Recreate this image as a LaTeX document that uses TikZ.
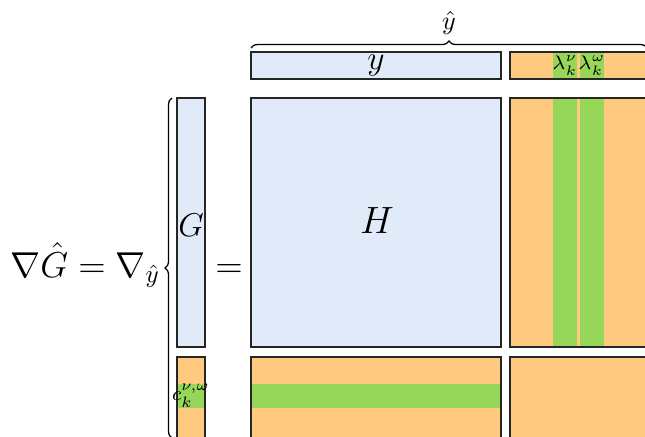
\RequirePackage{fix-cm}
\documentclass[tikz,border=0pt]{standalone}
\usepackage{amsmath, amssymb}
\usepackage{tikz}
\usetikzlibrary{decorations.pathreplacing}
\usepackage{xcolor}
\definecolor{blockblue}{RGB}{224,234,248}
\definecolor{blockorange}{RGB}{255,202,128}
\definecolor{blockgreen}{RGB}{150,214,88}
\tikzset{
  edge/.style={draw=black!85,line width=0.6pt},
  curly/.style={decorate,decoration={brace,amplitude=2.8pt},line width=0.5pt},
  eqfont/.style={font=\fontsize{14.4}{17}\selectfont,inner sep=0pt},
  blockfont/.style={font=\fontsize{13.4}{16}\selectfont,inner sep=0pt},
  tagfont/.style={font=\fontsize{7.8}{9}\selectfont,inner sep=0pt},
}

\begin{document}
\begin{tikzpicture}[x=0.4pt,y=0.4pt]
  \useasboundingbox (0,0) rectangle (645,436);
  \clip (0,0) rectangle (645,436);
  % fills
  \fill[blockblue] (251,357) rectangle (501,384);
  \fill[blockorange] (510,357) rectangle (760,384);
  \fill[blockblue] (251,89) rectangle (501,338);
  \fill[blockorange] (510,89) rectangle (760,338);
  \fill[blockorange] (251,-170) rectangle (501,79);
  \fill[blockorange] (510,-170) rectangle (760,79);
  \fill[blockblue] (177,89) rectangle (205,338);
  \fill[blockorange] (177,-170) rectangle (205,79);
  % green strips
  \fill[blockgreen] (553,357) rectangle (577,384);
  \fill[blockgreen] (580,357) rectangle (604,384);
  \fill[blockgreen] (553,89) rectangle (577,338);
  \fill[blockgreen] (580,89) rectangle (604,338);
  \fill[blockgreen] (251,28) rectangle (501,52);
  \fill[blockgreen] (177,28) rectangle (205,52);
  % borders
  \draw[edge] (251,357) rectangle (501,384);
  \draw[edge] (510,357) rectangle (760,384);
  \draw[edge] (251,89) rectangle (501,338);
  \draw[edge] (510,89) rectangle (760,338);
  \draw[edge] (251,-170) rectangle (501,79);
  \draw[edge] (510,-170) rectangle (760,79);
  \draw[edge] (177,89) rectangle (205,338);
  \draw[edge] (177,-170) rectangle (205,79);
  % braces
  \draw[curly] (251,388) -- (647,388);
  \draw[curly] (172,-2) -- (172,338);
  % labels
  \node[eqfont,anchor=base west] (lhs) at (10,159) {$\nabla\hat{G}=\nabla_{\hat{y}}$};
  \node[eqfont,anchor=base] (eq) at (229,159) {$=$};
  \node[font=\fontsize{13.2}{15}\selectfont,inner sep=0pt] (G) at (191,210.5) {$G$};
  \node[font=\fontsize{15.2}{18}\selectfont,inner sep=0pt] (H) at (377,215) {$H$};
  \node[blockfont] (y) at (376,370.5) {$y$};
  \node[font=\fontsize{10.4}{12}\selectfont,inner sep=0pt] (yhat) at (449,413.5) {$\hat{y}$};
  \node[tagfont] (lnu) at (565,370.5) {$\lambda_k^{\nu}$};
  \node[tagfont] (lomega) at (592,370.5) {$\lambda_k^{\omega}$};
  \node[font=\fontsize{8}{9}\selectfont,inner sep=0pt] (c) at (191,40) {$c_k^{\nu,\omega}$};
\end{tikzpicture}
\end{document}
